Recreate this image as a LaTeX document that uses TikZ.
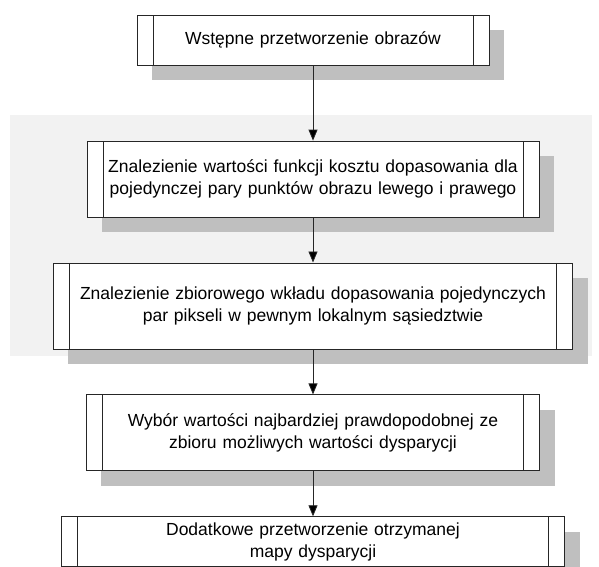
\documentclass[tikz,border=0pt]{standalone}
\usepackage{fontspec}
\setmainfont{Liberation Sans}
\usetikzlibrary{matrix,shadows,arrows.meta}

\tikzset{
  proc/.style={draw=black!85, line width=0.9pt, fill=white, align=center,
    font=\fontsize{17.5}{22.5}\selectfont, inner sep=0pt, anchor=center,
    drop shadow={shadow xshift=15pt, shadow yshift=-15pt, fill=black!25, opacity=1},
    path picture={
      \draw[black!85, line width=0.9pt]
        ([xshift=16pt]path picture bounding box.north west) -- ([xshift=16pt]path picture bounding box.south west)
        ([xshift=-16pt]path picture bounding box.north east) -- ([xshift=-16pt]path picture bounding box.south east);
    }},
  flow/.style={draw=black!85, line width=0.8pt, -{Triangle[length=11pt,width=9pt,fill=black]}}
}

\begin{document}
\begin{tikzpicture}
  \useasboundingbox (0,0) rectangle (599pt,-566pt);
  \fill[black!5] (10pt,-115pt) rectangle (592pt,-356pt);
  \matrix (chain) [matrix of nodes, row sep=45pt, nodes={proc},
                   matrix anchor=pre.north] at (313pt,-14.7pt)
  {
    |[text width=352pt, minimum height=50pt](pre)| Wstępne przetworzenie obrazów \\[30pt]
    |[text width=452pt, minimum height=76pt](cost)| Znalezienie wartości funkcji kosztu dopasowania dla\break pojedynczej pary punktów obrazu lewego i prawego \\
    |[text width=519pt, minimum height=86pt](aggr)| Znalezienie zbiorowego wkładu dopasowania pojedynczych\break par pikseli w pewnym lokalnym sąsiedztwie \\
    |[text width=453pt, minimum height=76pt](choice)| Wybór wartości najbardziej prawdopodobnej ze\break zbioru możliwych wartości dysparycji \\
    |[text width=503pt, minimum height=50pt](post)| Dodatkowe przetworzenie otrzymanej\break mapy dysparycji \\
  };
  \draw[flow] (pre) -- (cost);
  \draw[flow] (cost) -- (aggr);
  \draw[flow] (aggr) -- (choice);
  \draw[flow] (choice) -- (post);
\end{tikzpicture}
\end{document}
